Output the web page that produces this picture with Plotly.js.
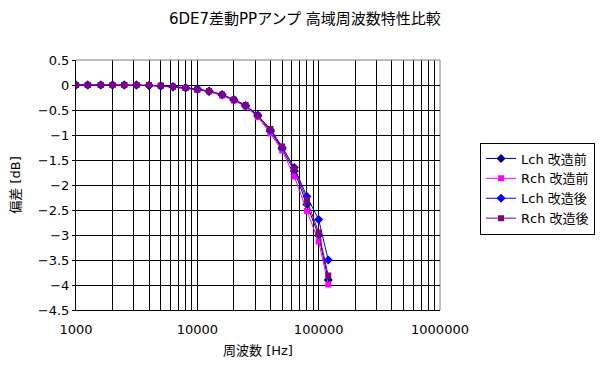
<!DOCTYPE html>
<html>
<head>
<meta charset="utf-8">
<script src="https://cdn.plot.ly/plotly-3.0.1.min.js"></script>
<style>html,body{margin:0;padding:0;background:#fff;}#chart{width:616px;height:371px;}</style>
</head>
<body>
<div id="chart"></div>
<script>
var freq = [1000,1250,1600,2000,2500,3150,4000,5000,6300,8000,10000,12500,16000,20000,25000,31500,40000,50000,63000,80000,100000,120000];
var lchBefore = [0,0,0,0,0,0,-0.01,-0.02,-0.04,-0.06,-0.09,-0.13,-0.2,-0.3,-0.42,-0.62,-0.93,-1.28,-1.72,-2.39,-3.01,-3.9];
var rchBefore = [0,0,0,0,0,0,0,-0.02,-0.04,-0.06,-0.09,-0.13,-0.21,-0.31,-0.43,-0.64,-0.97,-1.31,-1.83,-2.52,-3.13,-3.99];
var lchAfter  = [0,0,0,0,0,0,-0.01,-0.02,-0.03,-0.05,-0.08,-0.12,-0.19,-0.29,-0.41,-0.6,-0.9,-1.25,-1.65,-2.23,-2.69,-3.5];
var rchAfter  = [0,0,0,0,0,0,0,-0.01,-0.03,-0.06,-0.09,-0.12,-0.19,-0.29,-0.4,-0.61,-0.88,-1.23,-1.67,-2.3,-2.95,-3.81];
var seriesNames = ['Lch 改造前','Rch 改造前','Lch 改造後','Rch 改造後'];
var decadeLabels = ['1000','10000','100000','1000000'];
var yTicks = [0.5,0,-0.5,-1,-1.5,-2,-2.5,-3,-3.5,-4,-4.5];

var xTickVals = [], xTickText = [];
[1000,10000,100000].forEach(function(d, i){
  for (var m = 1; m <= 9; m++) { xTickVals.push(d*m); xTickText.push(m === 1 ? decadeLabels[i] : ''); }
});
xTickVals.push(1000000); xTickText.push(decadeLabels[3]);

var font = '"DejaVu Sans", "Noto Sans CJK JP", sans-serif';
function tr(y, name, color, sym, sz){
  return {x: freq, y: y, name: name, type: 'scatter', mode: 'lines+markers',
    line: {color: color, width: 1}, marker: {color: color, symbol: sym, size: sz}};
}
var data = [
  tr(lchBefore, seriesNames[0], '#000080', 'diamond', 7),
  tr(rchBefore, seriesNames[1], '#FF00FF', 'square', 6),
  tr(lchAfter, seriesNames[2], '#0000FF', 'diamond', 7),
  tr(rchAfter, seriesNames[3], '#800080', 'square', 6)
];
var layout = {
  width: 616, height: 371,
  margin: {l: 76, r: 176, t: 60, b: 61},
  paper_bgcolor: '#fff', plot_bgcolor: '#fff',
  font: {family: font, size: 13, color: '#000'},
  title: {text: '6DE7差動PPアンプ 高域周波数特性比較', x: 0.495, xanchor: 'center', y: 0.95, yanchor: 'middle', font: {size: 15, family: font}},
  showlegend: true,
  legend: {x: 1.11, xanchor: 'left', y: 0.67, yanchor: 'top', bordercolor: '#000', borderwidth: 1,
    font: {size: 13, family: font}, tracegroupgap: 0, itemwidth: 30},
  xaxis: {type: 'log', range: [3, 6], tickmode: 'array', tickvals: xTickVals, ticktext: xTickText,
    showgrid: true, gridcolor: '#000', gridwidth: 1, showline: true, linecolor: '#000', linewidth: 1,
    ticks: 'outside', ticklen: 7, tickcolor: 'rgba(0,0,0,0)', zeroline: false, fixedrange: true, tickfont: {size: 13},
    title: {text: '周波数 [Hz]', font: {size: 13}, standoff: 10}},
  yaxis: {range: [-4.5, 0.5], tickmode: 'array', tickvals: yTicks,
    showgrid: true, gridcolor: '#000', gridwidth: 1, showline: true, linecolor: '#000', linewidth: 1,
    ticks: 'outside', ticklen: 3, tickcolor: '#000', zeroline: false, tickfont: {size: 13},
    title: {text: '偏差 [dB]', font: {size: 13}, standoff: 14}},
  shapes: [
    {type: 'line', xref: 'paper', yref: 'paper', x0: 0, x1: 1, y0: 1, y1: 1, line: {color: '#808080', width: 1}, layer: 'above'},
    {type: 'line', xref: 'paper', yref: 'paper', x0: 1, x1: 1, y0: 0, y1: 1, line: {color: '#808080', width: 1}, layer: 'below'}
  ]
};
Plotly.newPlot('chart', data, layout, {staticPlot: true, displayModeBar: false});
</script>
</body>
</html>
